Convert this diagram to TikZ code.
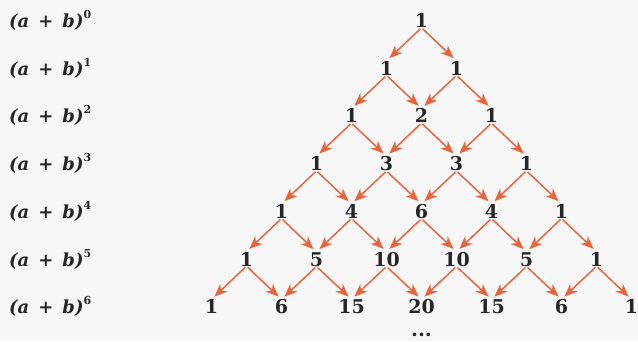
\documentclass[tikz,border=0pt]{standalone}
\usepackage{fontspec}
\setmainfont{DejaVu Serif}
\usetikzlibrary{arrows.meta}
\definecolor{bgc}{HTML}{F7F7F7}
\definecolor{arrc}{HTML}{E8643F}
\definecolor{ink}{HTML}{262626}
\begin{document}
\begin{tikzpicture}[x=1pt,y=-1pt,
  num/.style={anchor=base, inner sep=0pt, font=\fontsize{19}{19}\selectfont\bfseries, text=ink},
  lbl/.style={anchor=base west, inner sep=0pt, font=\fontsize{18}{18}\selectfont\bfseries\itshape, text=ink},
  pa/.style={draw=arrc, line width=1.5pt, -{Stealth[length=13pt,width=10.5pt,inset=4pt]}, shorten <=1.5pt, shorten >=4pt}]
\fill[bgc] (0,0) rectangle (638,341);
\useasboundingbox (0,0) rectangle (638,341);
\foreach \row [count=\r from 0] in {{1},{1,1},{1,2,1},{1,3,3,1},{1,4,6,4,1},{1,5,10,10,5,1},{1,6,15,20,15,6,1}}{
  \foreach \v [count=\k from 0] in \row {
    \node[num] (n-\r-\k) at ({421.5+(2*\k-\r)*35}, {27.5+47.7*\r}) {\v};
  }
  \node[lbl] (l-\r) at (9, {27.5+47.7*\r}) {(a\hspace{0.5em}+\hspace{0.5em}b)\raisebox{0.5em}{\fontsize{11}{11}\selectfont\upshape\r}};
}
\foreach \r in {0,...,5}{
  \pgfmathtruncatemacro{\rn}{\r+1}
  \foreach \k in {0,...,\r}{
    \pgfmathtruncatemacro{\kn}{\k+1}
    \draw[pa] (n-\r-\k.south) -- (n-\rn-\k.north);
    \draw[pa] (n-\r-\k.south) -- (n-\rn-\kn.north);
  }
}
\node[num, font=\fontsize{20}{20}\selectfont\bfseries] (dots) at (421.5, 336) {...};
\end{tikzpicture}
\end{document}
